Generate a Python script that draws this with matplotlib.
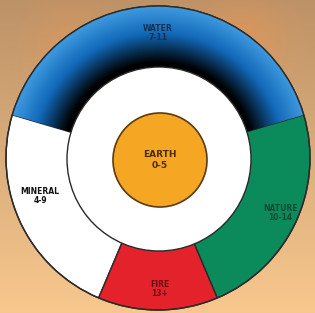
import numpy as np
import matplotlib
matplotlib.use("Agg")
import matplotlib.pyplot as plt
from matplotlib.patches import Circle

# ---- data ----
segments = ["WATER", "MINERAL", "FIRE", "NATURE"]
segment_ranges = ["7-11", "4-9", "13+", "10-14"]
segment_spans = [147, 83.5, 46, 83.5]   # degrees of the outer ring
segment_colors = ["#1f80c9", "#ffffff", "#e4222b", "#0b8a5c"]
text_colors = ["#163050", "#111111", "#6a1010", "#124a32"]
center_label = "EARTH"
center_range = "0-5"

W, H = 315, 313
fig = plt.figure(figsize=(W / 100, H / 100), dpi=100)
ax = fig.add_axes([0, 0, 1, 1])

# background: warm blurred tones
yy, xx = np.mgrid[0:H, 0:W]
t = yy / H  # 0 top ... 1 bottom
top = np.array([188, 146, 104]) / 255
bot = np.array([248, 200, 142]) / 255
bg = top[None, None, :] * (1 - t[..., None]) + bot[None, None, :] * t[..., None]
glow = np.exp(-(((xx - 240) / 45) ** 2 + ((yy - 40) / 40) ** 2)) * 0.5
glow2 = np.exp(-(((xx - 70) / 40) ** 2 + ((yy - 50) / 50) ** 2)) * 0.35
orange = np.array([238, 150, 80]) / 255
for g in (glow, glow2):
    bg = bg * (1 - g[..., None]) + orange[None, None, :] * g[..., None]
ax.imshow(bg, extent=[0, W, 0, H], origin="upper", zorder=0, aspect="auto")

cx, cy = 158, 155
R_out, R_in, R_c = 152, 92, 47

wedges, _ = ax.pie(segment_spans, colors=segment_colors, startangle=16.5,
                   counterclock=True, radius=R_out, center=(cx, cy),
                   wedgeprops=dict(edgecolor="#2a2a2a", linewidth=1.0),
                   frame=True)
ax.set_xlim(0, W)
ax.set_ylim(0, H)
ax.set_aspect("auto")
ax.axis("off")

# radial gradient for water wedge
r = np.hypot(xx - cx, (H - yy) - cy)
s = np.clip((r - 96) / (150 - 96), 0, 1)[..., None]
c0 = np.array([0, 0, 0])
c1 = np.array([18, 105, 185]) / 255
c2 = np.array([60, 150, 220]) / 255
k = 0.55
col = np.where(s < k, c0 * (1 - s / k) + c1 * (s / k),
               c1 * (1 - (s - k) / (1 - k)) + c2 * ((s - k) / (1 - k)))
col = np.clip(col, 0, 1)
im = ax.imshow(col, extent=[0, W, 0, H], origin="upper", zorder=1.5, aspect="auto")
im.set_clip_path(wedges[0])
for w in wedges:
    w.set_zorder(1)
ax.add_patch(Circle((cx, cy), R_out, fill=False, edgecolor="#2a2a2a", lw=1.0, zorder=2))

ax.add_patch(Circle((cx + 1, cy - 1), R_in, facecolor="white", edgecolor="#2a2a2a", lw=1.0, zorder=3))
ax.add_patch(Circle((cx + 2, cy - 2), R_c, facecolor="#f5a623", edgecolor="#5a3a10", lw=1.2, zorder=4))

label_pos = [(158, 280), (40, 117), (160, 24), (280, 100)]
for name, rng, (x, y), tc in zip(segments, segment_ranges, label_pos, text_colors):
    ax.text(x, y, f"{name}\n{rng}", ha="center", va="center", fontsize=5.5,
            fontweight="bold", color=tc, linespacing=1.1, zorder=5)
ax.text(cx + 2, cy - 2, f"{center_label}\n{center_range}", ha="center", va="center",
        fontsize=6.5, fontweight="bold", color="#4a2a08", linespacing=1.2, zorder=5)

fig.savefig("out.png", dpi=100)
